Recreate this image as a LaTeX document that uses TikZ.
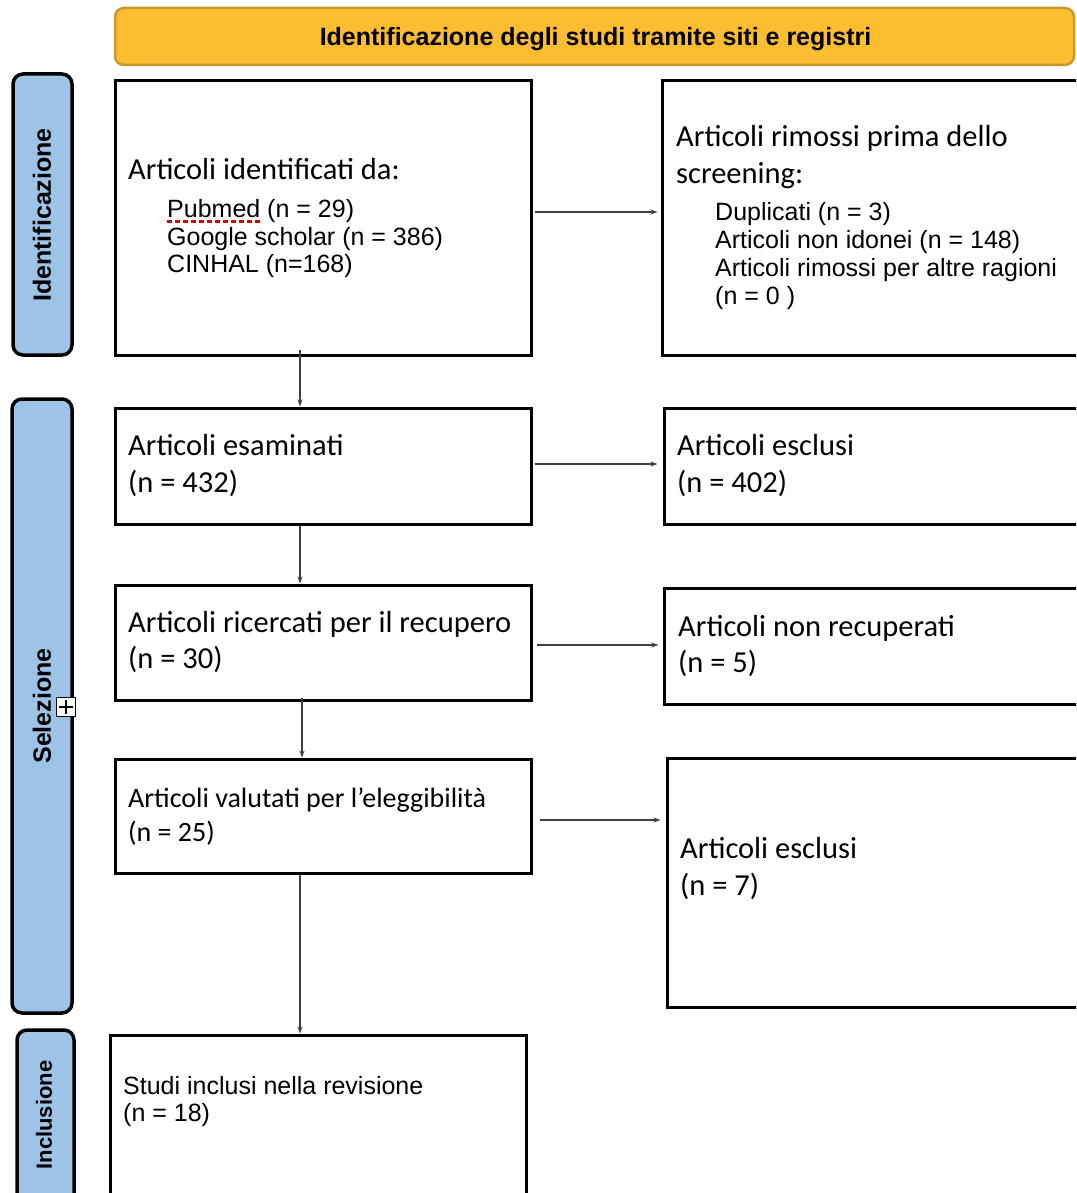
\documentclass[tikz,border=0pt]{standalone}
\usepackage{fontspec}
\setmainfont{Carlito}
\newfontfamily\arialf{Liberation Sans}
\usetikzlibrary{arrows.meta}
\definecolor{headfill}{RGB}{252,190,48}
\definecolor{headdraw}{RGB}{200,152,45}
\definecolor{sideblue}{RGB}{157,195,230}
\begin{document}
\begin{tikzpicture}[x=1pt,y=-1pt,
  box/.style={draw=black, line width=3pt, fill=white, inner sep=0pt},
  side/.style={draw=black, line width=3.5pt, fill=sideblue, rounded corners=10pt, inner sep=0pt},
  head/.style={draw=headdraw, line width=2.5pt, fill=headfill, rounded corners=9pt, inner sep=0pt},
  headtxt/.style={anchor=base, inner sep=0pt, font=\arialf\bfseries\fontsize{25pt}{28pt}\selectfont},
  sidetxt/.style={rotate=90, inner sep=0pt, font=\arialf\bfseries\fontsize{25pt}{28pt}\selectfont},
  cal/.style={anchor=base west, inner sep=0pt, font=\fontsize{30.5pt}{37pt}\selectfont},
  calsm/.style={anchor=base west, inner sep=0pt, font=\fontsize{28pt}{34pt}\selectfont},
  ari/.style={anchor=base west, inner sep=0pt, font=\arialf\fontsize{25pt}{28pt}\selectfont},
  arr/.style={-{Stealth[length=7pt,width=5pt]}, line width=1.2pt, black!75}]
\useasboundingbox (0,0) rectangle (1076,1193);
\clip (0,0) rectangle (1076,1193);
\fill[white] (0,0) rectangle (1076,1193);

% header
\node[head, minimum width=959pt, minimum height=57pt] (head) at (594.5,36.5) {};
\node[headtxt] (headt) at (595.5,45.5) {Identificazione degli studi tramite siti e registri};

% side bars
\node[side, minimum width=59pt, minimum height=281pt] (sid1) at (42.5,214.5) {};
\node[sidetxt] (sidt1) at (42,215) {Identificazione};
\node[side, minimum width=60pt, minimum height=614pt] (sid2) at (42,706) {};
\node[sidetxt] (sidt2) at (42,706) {Selezione};
\node[side, minimum width=57pt, minimum height=175pt] (sid3) at (45.5,1117.5) {};
\node[sidetxt, font=\arialf\bfseries\fontsize{22pt}{24pt}\selectfont] (sidt3) at (44,1115) {Inclusione};

% boxes
\node[box, minimum width=416pt, minimum height=274pt] (b1) at (323,218) {};
\node[box, minimum width=428pt, minimum height=274pt] (b2) at (876,218) {};
\node[box, minimum width=416pt, minimum height=116pt] (b3) at (323,466) {};
\node[box, minimum width=426pt, minimum height=116pt] (b4) at (877,466) {};
\node[box, minimum width=416pt, minimum height=115pt] (b5) at (323,642.5) {};
\node[box, minimum width=426pt, minimum height=116pt] (b6) at (877,646) {};
\node[box, minimum width=416pt, minimum height=114pt] (b7) at (323,816) {};
\node[box, minimum width=423pt, minimum height=249pt] (b8) at (878.5,882.5) {};
\node[box, minimum width=416pt, minimum height=175pt] (b9) at (318,1122.5) {};

% texts box 1
\node[cal] (t1a) at (128,180) {Articoli identificati da:};
\node[ari] (t1b) at (167,217) {Pubmed (n = 29)};
\node[ari] (t1c) at (167,245) {Google scholar (n = 386)};
\node[ari] (t1d) at (167,272) {CINHAL (n=168)};
\draw[red!85!black, line width=2.5pt, dash pattern=on 5pt off 3pt] (167,221.5) -- (262,221.5);

% texts box 2
\node[cal] (t2a) at (676,147) {Articoli rimossi prima dello};
\node[cal] (t2b) at (676,184) {screening:};
\node[ari] (t2c) at (715,220) {Duplicati (n = 3)};
\node[ari] (t2d) at (715,248) {Articoli non idonei (n = 148)};
\node[ari] (t2e) at (715,276) {Articoli rimossi per altre ragioni};
\node[ari] (t2f) at (715,304) {(n = 0 )};

% texts box 3/4
\node[cal] (t3a) at (128,455) {Articoli esaminati};
\node[cal] (t3b) at (128,492) {(n = 432)};
\node[cal] (t4a) at (677,455) {Articoli esclusi};
\node[cal] (t4b) at (677,492) {(n = 402)};

% texts box 5/6
\node[cal] (t5a) at (128,632) {Articoli ricercati per il recupero};
\node[cal] (t5b) at (128,668) {(n = 30)};
\node[cal] (t6a) at (678,636) {Articoli non recuperati};
\node[cal] (t6b) at (678,672) {(n = 5)};

% texts box 7/8
\node[calsm] (t7a) at (128,807) {Articoli valutati per l’eleggibilità};
\node[calsm] (t7b) at (128,841) {(n = 25)};
\node[cal] (t8a) at (680,858) {Articoli esclusi};
\node[cal] (t8b) at (680,895) {(n = 7)};

% texts box 9
\node[ari] (t9a) at (123,1094) {Studi inclusi nella revisione};
\node[ari] (t9b) at (123,1121) {(n = 18)};

% horizontal arrows
\draw[arr, shorten <=2pt, shorten >=3pt] ([yshift=6pt]b1.east) -- ([yshift=6pt]b2.west);
\draw[arr, shorten <=2pt, shorten >=5pt] ([yshift=2pt]b3.east) -- ([yshift=2pt]b4.west);
\draw[arr, shorten <=4pt, shorten >=4pt] ([yshift=-2.5pt]b5.east) -- ([yshift=1pt]b6.west);
\draw[arr, shorten <=7pt, shorten >=5pt] ([yshift=-4pt]b7.east) -- ([yshift=62.5pt]b8.west);

% vertical arrows
\draw[arr, shorten <=-7pt] ([xshift=-23pt]b1.south) -- ([xshift=-23pt]b3.north);
\draw[arr] ([xshift=-23pt]b3.south) -- ([xshift=-23pt]b5.north);
\draw[arr, shorten <=-4pt] ([xshift=-21pt]b5.south) -- ([xshift=-21pt]b7.north);
\draw[arr] ([xshift=-23pt]b7.south) -- ([xshift=-18pt]b9.north);

% plus handle
\node[draw=black, fill=white, line width=1pt, minimum size=19pt, inner sep=0pt] (plus) at (66,707) {};
\draw[line width=1.6pt] ([xshift=3pt]plus.west) -- ([xshift=-3pt]plus.east)
  ([yshift=-3pt]plus.north) -- ([yshift=3pt]plus.south);
\end{tikzpicture}
\end{document}
